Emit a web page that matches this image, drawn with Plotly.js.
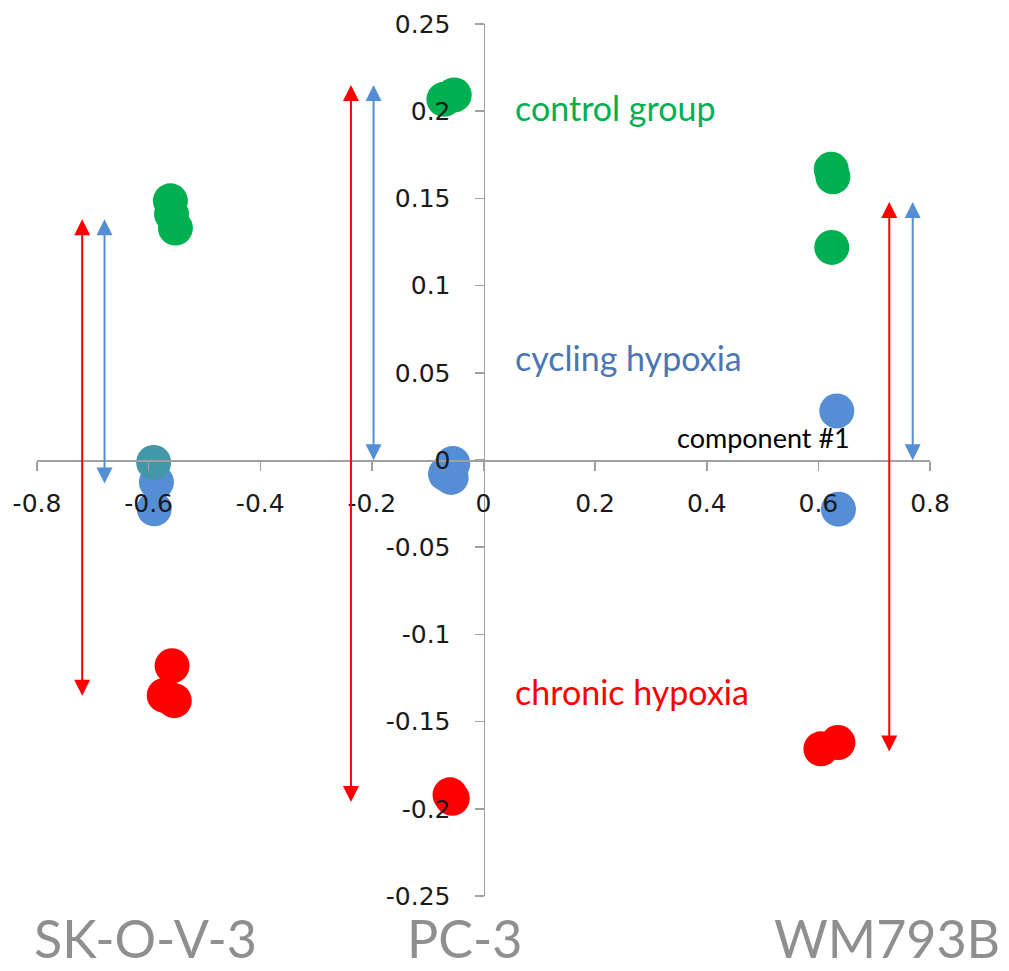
<!DOCTYPE html>
<html>
<head>
<meta charset="utf-8">
<script src="https://cdn.plot.ly/plotly-3.0.1.min.js"></script>
<style>html,body{margin:0;padding:0;background:#fff;}#chart{width:1009px;height:971px;}</style>
</head>
<body>
<div id="chart"></div>
<script>
// ---- data ----
const controlX = [-0.561, -0.559, -0.552, -0.071, -0.0525, 0.623, 0.626, 0.624];
const controlY = [0.1486, 0.141, 0.133, 0.2068, 0.2093, 0.1667, 0.1624, 0.1219];

const cyclingX = [-0.586, -0.590, -0.055, -0.068, -0.058, 0.633, 0.636];
const cyclingY = [-0.0127, -0.028, -0.002, -0.008, -0.010, 0.0281, -0.0282];

const tealX = [-0.591];
const tealY = [-0.0014];

const chronicX = [-0.558, -0.572, -0.554, -0.060, -0.056, 0.6045, 0.635];
const chronicY = [-0.118, -0.135, -0.138, -0.192, -0.194, -0.1656, -0.162];

// double-headed arrows: x position, top, bottom, colour group
const arrowX = [-0.719, -0.679, -0.2375, -0.197, 0.727, 0.769];
const arrowTop = [0.138, 0.138, 0.215, 0.215, 0.148, 0.148];
const arrowBottom = [-0.136, -0.0144, -0.197, -0.001, -0.168, -0.001];
const arrowGroup = ['chronic', 'cycling', 'chronic', 'cycling', 'chronic', 'cycling'];

const xTickVals = [-0.8, -0.6, -0.4, -0.2, 0, 0.2, 0.4, 0.6, 0.8];
const xTickText = ['-0.8', '-0.6', '-0.4', '-0.2', '0', '0.2', '0.4', '0.6', '0.8'];
const yTickVals = [0.25, 0.2, 0.15, 0.1, 0.05, 0, -0.05, -0.1, -0.15, -0.2, -0.25];
const yTickText = ['0.25', '0.2', '0.15', '0.1', '0.05', '0', '-0.05', '-0.1', '-0.15', '-0.2', '-0.25'];

const cellLines = ['SK-O-V-3', 'PC-3', 'WM793B'];
const groupNames = ['control group', 'cycling hypoxia', 'chronic hypoxia'];
const axisNames = ['component #1', 'component #3'];

// ---- styles ----
const colors = {control: '#00B050', cycling: '#558ED5', chronic: '#FF0000', teal: '#4397A8'};
const labelColors = {control: '#00B050', cycling: '#4A76B4', chronic: '#FF0000'};
const MS = 35;

function pts(x, y, c) {
  return {type: 'scatter', mode: 'markers', x: x, y: y, cliponaxis: false,
    marker: {size: MS, color: c, line: {width: 0}}, hoverinfo: 'skip', showlegend: false};
}

const traces = [
  pts(controlX, controlY, colors.control),
  pts(cyclingX, cyclingY, colors.cycling),
  pts(chronicX, chronicY, colors.chronic),
  pts(tealX, tealY, colors.teal)
];

const annotations = [];
arrowX.forEach((ax, i) => {
  annotations.push({
    x: ax, y: arrowTop[i], ax: ax, ay: arrowBottom[i],
    xref: 'x', yref: 'y', axref: 'x', ayref: 'y',
    text: '', showarrow: true, arrowside: 'end+start',
    arrowhead: 2, startarrowhead: 2, arrowsize: 1.6, startarrowsize: 1.6,
    arrowwidth: 2, arrowcolor: colors[arrowGroup[i]], standoff: 0, startstandoff: 0
  });
});

const lblFont = 'Lato, "Open Sans", sans-serif';
annotations.push(
  {x: 0.052, y: 0.202, xref: 'x', yref: 'y', xanchor: 'left', yanchor: 'middle', showarrow: false,
   text: groupNames[0], font: {family: lblFont, size: 34, color: labelColors.control}},
  {x: 0.052, y: 0.0589, xref: 'x', yref: 'y', xanchor: 'left', yanchor: 'middle', showarrow: false,
   text: groupNames[1], font: {family: lblFont, size: 34, color: labelColors.cycling}},
  {x: 0.052, y: -0.133, xref: 'x', yref: 'y', xanchor: 'left', yanchor: 'middle', showarrow: false,
   text: groupNames[2], font: {family: lblFont, size: 34, color: labelColors.chronic}},
  {x: 0.343, y: 0.013, xref: 'x', yref: 'y', xanchor: 'left', yanchor: 'middle', showarrow: false,
   text: axisNames[0], font: {family: lblFont, size: 27, color: '#000'}},
  {x: 0.021, y: 0.2524, xref: 'x', yref: 'y', xanchor: 'left', yanchor: 'middle', showarrow: false,
   text: axisNames[1], font: {family: lblFont, size: 27, color: '#000'}}
);
const cellLineX = [0.122, 0.479, 0.952];
cellLines.forEach((t, i) => {
  annotations.push({x: cellLineX[i], y: -0.086, xref: 'paper', yref: 'paper', xanchor: 'center', yanchor: 'bottom',
    showarrow: false, text: t, font: {family: lblFont, size: 52, color: '#8F8F8F'}});
});

const tickFont = {family: '"DejaVu Sans", sans-serif', size: 25, color: '#1a1a1a'};
const layout = {
  width: 1009, height: 971,
  margin: {l: 37, r: 79, t: 24, b: 75, pad: 0},
  paper_bgcolor: '#fff', plot_bgcolor: '#fff',
  showlegend: false,
  xaxis: {
    range: [-0.8, 0.8], anchor: 'free', position: 0.5, side: 'bottom',
    showgrid: false, zeroline: false, showline: true, linecolor: '#a0a0a0', linewidth: 1.5,
    ticks: 'outside', ticklen: 9, tickwidth: 1.5, tickcolor: '#a0a0a0',
    tickmode: 'array', tickvals: xTickVals, ticktext: xTickText, tickfont: tickFont,
    ticklabelstandoff: 11, layer: 'above traces', fixedrange: true
  },
  yaxis: {
    range: [-0.25, 0.25], anchor: 'free', position: 0.5, side: 'left',
    showgrid: false, zeroline: false, showline: true, linecolor: '#a0a0a0', linewidth: 1.5,
    ticks: 'outside', ticklen: 9, tickwidth: 1.5, tickcolor: '#a0a0a0',
    tickmode: 'array', tickvals: yTickVals, ticktext: yTickText, tickfont: tickFont,
    ticklabelstandoff: 19, layer: 'above traces', fixedrange: true
  },
  annotations: annotations
};

Plotly.newPlot('chart', traces, layout, {staticPlot: true, displayModeBar: false});
</script>
</body>
</html>
